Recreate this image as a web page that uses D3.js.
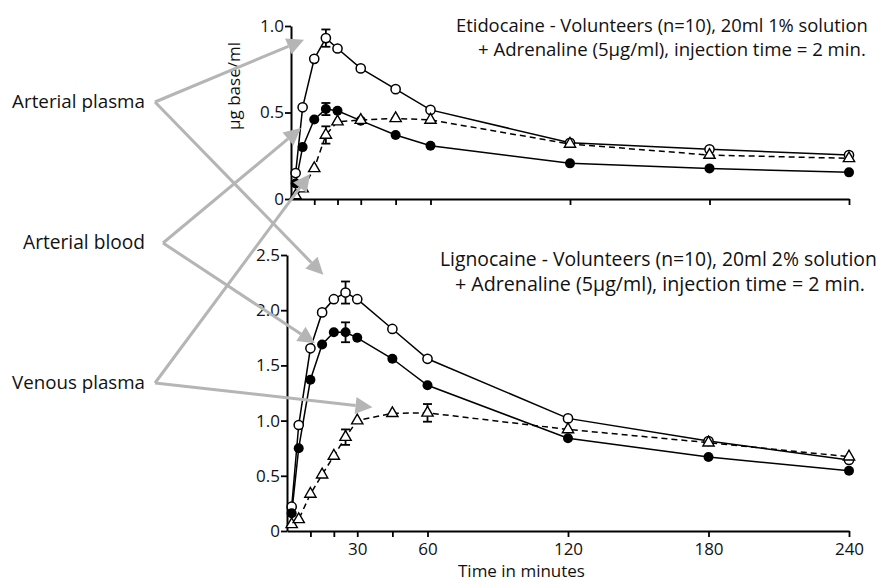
<!DOCTYPE html>
<html><head><meta charset="utf-8">
<script src="https://cdn.jsdelivr.net/npm/d3@7"></script>
<style>body{margin:0;background:#fff} svg{display:block}</style>
</head><body>
<svg id="c" width="887" height="581"></svg>
<script>
// ---------- DATA ----------
const etiTimes = [2, 5, 10, 15, 20, 30, 45, 60, 120, 180, 240];
const etiArterialPlasma = [0.15, 0.53, 0.81, 0.93, 0.87, 0.755, 0.635, 0.515, 0.325, 0.287, 0.254];
const etiArterialBlood  = [0.09, 0.30, 0.46, 0.52, 0.51, 0.453, 0.37, 0.308, 0.206, 0.177, 0.154];
const etiVenousPlasma   = [0.02, 0.06, 0.177, 0.37, 0.447, 0.456, 0.466, 0.457, 0.318, 0.254, 0.235];
const etiErrPlasma = [[15, 0.05]];
const etiErrBlood  = [[15, 0.035]];
const etiErrVenous = [[15, 0.05]];

const ligTimes = [2, 5, 10, 15, 20, 25, 30, 45, 60, 120, 180, 240];
const ligArterialPlasma = [0.22, 0.96, 1.655, 1.98, 2.10, 2.16, 2.10, 1.83, 1.56, 1.02, 0.815, 0.643];
const ligArterialBlood  = [0.16, 0.75, 1.37, 1.69, 1.80, 1.80, 1.75, 1.56, 1.32, 0.84, 0.67, 0.546];
const ligVenousPlasma   = [0.06, 0.105, 0.335, 0.51, 0.68, 0.85, 1.00, 1.066, 1.07, 0.92, 0.80, 0.673];
const ligErrPlasma = [[25, 0.1]];
const ligErrBlood  = [[25, 0.09]];
const ligErrVenous = [[25, 0.07], [60, 0.08]];

const xTickValues = [10, 20, 30, 45, 60, 120, 180, 240];
const xTickLabels = [30, 60, 120, 180, 240];
const etiYTicks = [0, 0.5, 1.0];
const ligYTicks = [0, 0.5, 1.0, 1.5, 2.0, 2.5];

const etiTitle = ["Etidocaine - Volunteers (n=10), 20ml 1% solution", "+ Adrenaline (5µg/ml), injection time = 2 min."];
const ligTitle = ["Lignocaine - Volunteers (n=10), 20ml 2% solution", "+ Adrenaline (5µg/ml), injection time = 2 min."];
const seriesNames = ["Arterial plasma", "Arterial blood", "Venous plasma"];
// arrow targets: [panel, time, value]
const arrowTargets = [
  [["eti", 5.6, 0.92], ["lig", 15.5, 2.32]],
  [["eti", 4.3, 0.41], ["lig", 12.0, 1.70]],
  [["eti", 8.2, 0.145], ["lig", 36.5, 1.12]]
];
const yLabel = "µg base/ml";
const xLabel = "Time in minutes";

// ---------- DRAW ----------
const svg = d3.select("#c");
const FONT = "'Open Sans', sans-serif";
const ARROW = "#b5b5b5";

function fit(sel, w) {
  const n = sel.node();
  const cur = n.getComputedTextLength();
  const fs = parseFloat(sel.attr("font-size"));
  sel.attr("font-size", (fs * w / cur).toFixed(2));
}

const panels = {
  eti: {
    x: d3.scaleLinear().domain([0, 240]).range([291, 849]),
    y: d3.scaleLinear().domain([0, 1]).range([199, 26]),
    times: etiTimes, yTicks: etiYTicks, showX: false,
    series: [
      {vals: etiArterialPlasma, err: etiErrPlasma, mark: "open", dash: null},
      {vals: etiArterialBlood, err: etiErrBlood, mark: "filled", dash: null},
      {vals: etiVenousPlasma, err: etiErrVenous, mark: "tri", dash: "6,4"}
    ],
    title: etiTitle, titlePos: [[456, 32, 412], [478, 56, 388]]
  },
  lig: {
    x: d3.scaleLinear().domain([0, 240]).range([287, 849]),
    y: d3.scaleLinear().domain([0, 2.5]).range([531, 255]),
    times: ligTimes, yTicks: ligYTicks, showX: true,
    series: [
      {vals: ligArterialPlasma, err: ligErrPlasma, mark: "open", dash: null},
      {vals: ligArterialBlood, err: ligErrBlood, mark: "filled", dash: null},
      {vals: ligVenousPlasma, err: ligErrVenous, mark: "tri", dash: "6,4"}
    ],
    title: ligTitle, titlePos: [[440, 266, 437], [455, 291, 410]]
  }
};

Object.values(panels).forEach(p => {
  const g = svg.append("g");
  // axes
  const ax = g.append("g").attr("transform", `translate(0,${p.y(0)})`)
    .call(d3.axisBottom(p.x).tickValues(xTickValues).tickSize(6).tickSizeOuter(0)
      .tickFormat(d => (p.showX && xTickLabels.includes(d)) ? d : ""));
  const ay = g.append("g").attr("transform", `translate(${p.x(0)},0)`)
    .call(d3.axisLeft(p.y).tickValues(p.yTicks).tickSize(6).tickSizeOuter(0)
      .tickFormat(d => d === 0 ? "0" : d3.format(".1f")(d)));
  [ax, ay].forEach(a => {
    a.select(".domain").attr("stroke", "#000").attr("stroke-width", 2);
    a.selectAll(".tick line").attr("stroke", "#000").attr("stroke-width", 1.8);
    a.selectAll(".tick text").attr("font-family", FONT).attr("font-size", 17).attr("fill", "#111");
  });
  ax.selectAll(".tick text").attr("dy", "0.9em");
  ay.selectAll(".tick text").attr("x", -7);

  // lines
  p.series.forEach(s => {
    const pts = p.times.map((t, i) => [t, s.vals[i]]);
    g.append("path").datum(pts)
      .attr("d", d3.line().x(d => p.x(d[0])).y(d => p.y(d[1])))
      .attr("fill", "none").attr("stroke", "#000").attr("stroke-width", 1.5)
      .attr("stroke-dasharray", s.dash);
  });
  // error bars
  p.series.forEach(s => {
    s.err.forEach(([t, e]) => {
      const v = s.vals[p.times.indexOf(t)];
      const cx = p.x(t), y1 = p.y(v + e), y2 = p.y(v - e);
      g.append("line").attr("x1", cx).attr("x2", cx).attr("y1", y1).attr("y2", y2)
        .attr("stroke", "#000").attr("stroke-width", 1.8);
      [y1, y2].forEach(yy => g.append("line").attr("x1", cx - 4.5).attr("x2", cx + 4.5)
        .attr("y1", yy).attr("y2", yy).attr("stroke", "#000").attr("stroke-width", 1.8));
    });
  });
  // markers
  p.series.forEach(s => {
    p.times.forEach((t, i) => {
      const cx = p.x(t), cy = p.y(s.vals[i]);
      if (s.mark === "open") {
        g.append("circle").attr("cx", cx).attr("cy", cy).attr("r", 4.6)
          .attr("fill", "#fff").attr("stroke", "#000").attr("stroke-width", 1.5);
      } else if (s.mark === "filled") {
        g.append("circle").attr("cx", cx).attr("cy", cy).attr("r", 5)
          .attr("fill", "#000");
      } else {
        g.append("path").attr("d", d3.symbol(d3.symbolTriangle, 55)())
          .attr("transform", `translate(${cx},${cy})`)
          .attr("fill", "#fff").attr("stroke", "#000").attr("stroke-width", 1.4);
      }
    });
  });
  // titles
  p.title.forEach((line, i) => {
    const [tx, ty, tw] = p.titlePos[i];
    const t = g.append("text").attr("x", tx).attr("y", ty).attr("font-family", FONT)
      .attr("font-size", 17).attr("fill", "#111").text(line);
    fit(t, tw);
  });
});

// y label
svg.append("text").attr("transform", "translate(240,86) rotate(-90)")
  .attr("text-anchor", "middle").attr("font-family", FONT).attr("font-size", 17)
  .attr("fill", "#111").text(yLabel);
// x label
const xl = svg.append("text").attr("x", 458).attr("y", 577).attr("font-family", FONT)
  .attr("font-size", 17).attr("fill", "#111").text(xLabel);
fit(xl, 127);

// series labels + arrows
const labelPos = [[145, 108, 133, 155, 102], [145, 249, 122, 163, 243], [145, 389, 133, 155, 383]];
seriesNames.forEach((name, i) => {
  const [lx, ly, lw, ox, oy] = labelPos[i];
  const t = svg.append("text").attr("x", lx).attr("y", ly).attr("text-anchor", "end")
    .attr("font-family", FONT).attr("font-size", 17).attr("fill", "#111").text(name);
  fit(t, lw);
  arrowTargets[i].forEach(([pk, tt, vv]) => {
    const p = panels[pk];
    const tx = p.x(tt), ty = p.y(vv);
    const ang = Math.atan2(ty - oy, tx - ox);
    const L = 17, W = 8.5;
    const bx = tx - L * Math.cos(ang), by = ty - L * Math.sin(ang);
    svg.append("line").attr("x1", ox).attr("y1", oy).attr("x2", bx).attr("y2", by)
      .attr("stroke", ARROW).attr("stroke-width", 3);
    const px = -Math.sin(ang), py = Math.cos(ang);
    svg.append("path").attr("d", `M${tx},${ty}L${bx + W * px},${by + W * py}L${bx - W * px},${by - W * py}Z`)
      .attr("fill", ARROW);
  });
});
</script>
</body></html>
